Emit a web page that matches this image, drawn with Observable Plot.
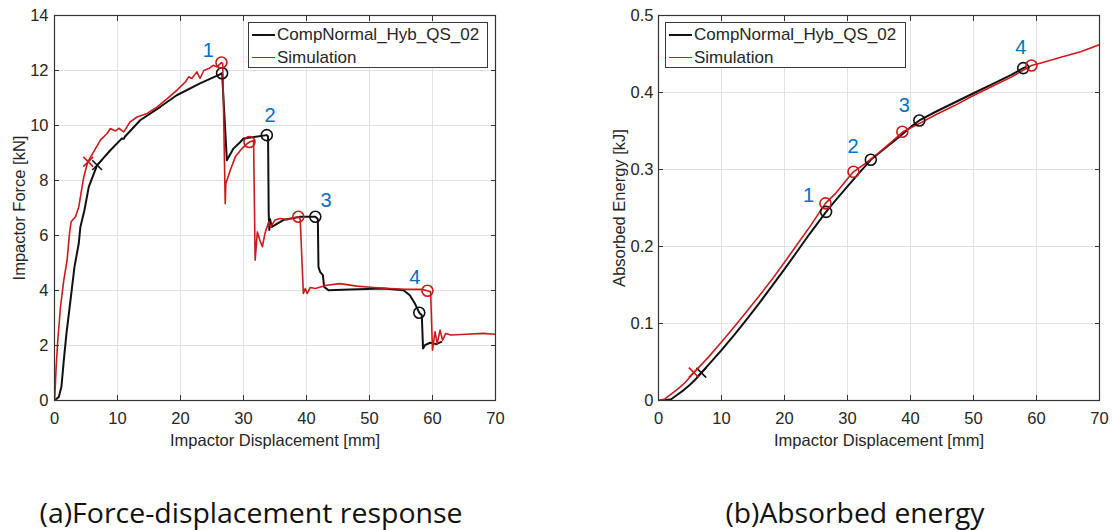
<!DOCTYPE html>
<html>
<head>
<meta charset="utf-8">
<script src="https://cdn.jsdelivr.net/npm/d3@7"></script>
<script src="https://cdn.jsdelivr.net/npm/@observablehq/plot@0.6"></script>
<style>
  body { margin: 0; background: #fff; width: 1112px; height: 530px; position: relative; overflow: hidden;
         font-family: "Liberation Sans", Arial, sans-serif; color: #262626; }
  .panel { position: absolute; top: 0; }
  .legend { position: absolute; top: 22px; height: 46px; border: 1px solid #3a3a3a; background: #fff; box-sizing: border-box; }
  .legend .row { height: 23px; line-height: 23px; font-size: 17px; white-space: nowrap; display: flex; align-items: center; }
  .legend .swatch { display: inline-block; width: 23px; margin-left: 3px; margin-right: 2px; }
  #captions { position: absolute; left: 0; top: 480px; }
</style>
</head>
<body>
<div id="force" class="panel" style="left:0"></div>
<div id="energy" class="panel" style="left:556px"></div>

<div class="legend" style="left:248px; width:240px">
  <div class="row"><span class="swatch" style="border-top:2px solid #111"></span>CompNormal_Hyb_QS_02</div>
  <div class="row"><span class="swatch" style="border-top:1.6px solid #cc1a1a"></span>Simulation</div>
</div>
<div class="legend" style="left:665px; width:241px">
  <div class="row"><span class="swatch" style="border-top:2px solid #111"></span>CompNormal_Hyb_QS_02</div>
  <div class="row"><span class="swatch" style="border-top:1.6px solid #cc1a1a"></span>Simulation</div>
</div>

<svg id="captions" width="1112" height="50">
  <text x="251" y="43" text-anchor="middle" font-family="Open Sans, sans-serif" font-size="27" fill="#111" textLength="423" lengthAdjust="spacingAndGlyphs">(a)Force-displacement response</text>
  <text x="855" y="43" text-anchor="middle" font-family="Open Sans, sans-serif" font-size="27" fill="#111" textLength="259" lengthAdjust="spacingAndGlyphs">(b)Absorbed energy</text>
</svg>

<script>
// ---- shared axis ticks ----
const dispTicks = [0, 10, 20, 30, 40, 50, 60, 70];
const forceTicks = [0, 2, 4, 6, 8, 10, 12, 14];
const energyTicks = [0, 0.1, 0.2, 0.3, 0.4, 0.5];

// ---- force–displacement: test (CompNormal_Hyb_QS_02) ----
const expDisp = [0, 0.68, 1.1, 1.48, 1.9, 2.54, 3.17, 3.85, 4.1, 4.75, 5.44, 6.77, 8.87, 10.7, 11.0, 11.2, 13.6, 16.8, 19.4, 23.1, 26.0, 26.6,
  27.36, 28.4, 29.5, 30.0, 33.7, 33.9, 34.0, 34.1, 34.2, 34.5, 36.3, 39.0, 41.4, 41.8, 41.9, 42.15, 42.6, 42.8, 43.5,
  46.9, 52.2, 55.4, 56.4, 57.2, 57.9, 58.3, 58.5, 58.8, 59.6, 60.6, 61.4];
const expForce = [0, 0.13, 0.5, 1.47, 2.44, 3.65, 4.86, 5.71, 6.3, 6.92, 7.77, 8.56, 9.1, 9.53, 9.52, 9.6, 10.19, 10.68, 11.1, 11.53, 11.83, 11.9,
  8.74, 9.16, 9.4, 9.53, 9.65, 9.6, 6.8, 6.2, 6.6, 6.31, 6.56, 6.68, 6.68, 6.6, 4.86, 4.68, 4.56, 4.13, 4.01,
  4.04, 4.07, 4.01, 3.83, 3.53, 3.19, 3.1, 1.89, 2.01, 2.1, 2.05, 2.13];

// ---- force–displacement: simulation ----
const simDisp = [0, 0.05, 0.26, 0.52, 0.95, 1.47, 2.0, 2.38, 2.64, 3.33, 3.85, 4.65, 5.28, 6.5, 7.29, 8.35, 8.87, 9.67, 10.2, 11.0, 12.0, 13.1,
  14.7, 16.3, 17.9, 19.4, 20.8, 21.3, 21.8, 22.6, 23.1, 23.7, 24.5, 25.2, 25.8, 26.5, 26.7, 27.1, 27.2, 27.9, 28.7, 29.75, 30.5, 30.95,
  31.6, 31.85, 32.2, 32.6, 33.0, 33.4, 34.0, 34.3, 35.0, 35.8, 37.0, 38.7, 39.0, 39.5, 39.8, 40.1, 40.6, 41.4, 43.2, 45.3, 48.0, 50.6,
  53.2, 55.9, 58.3, 59.2, 59.7, 60.0, 60.4, 60.75, 61.2, 61.6, 62.1, 62.9, 65.4, 68.0, 70.0];
const simForce = [0, 0.13, 1.22, 2.19, 3.4, 4.37, 5.1, 6.07, 6.5, 6.68, 7.04, 8.13, 8.68, 9.16, 9.47, 9.71, 9.89, 9.8, 9.9, 9.77, 10.13, 10.31,
  10.44, 10.68, 10.98, 11.28, 11.59, 11.77, 11.71, 11.95, 11.71, 12.0, 12.07, 12.19, 12.13, 12.29, 12.25, 7.16, 7.89, 8.37, 8.86, 9.16, 9.32, 9.4,
  9.45, 5.1, 6.13, 5.83, 5.59, 6.07, 6.5, 6.31, 6.56, 6.62, 6.58, 6.68, 6.6, 3.89, 4.07, 3.89, 4.11, 4.07, 4.19, 4.25, 4.16, 4.11,
  4.07, 4.04, 4.04, 3.99, 3.95, 1.83, 2.5, 2.07, 2.56, 2.19, 2.44, 2.38, 2.41, 2.44, 2.41];

// ---- absorbed energy (kJ) ----
const expEnergyDisp = [0, 1, 2, 3, 4, 5, 6, 6.8, 8, 10, 12, 14, 16, 18, 20, 22, 24, 26.6, 28, 30, 32, 33.7, 36, 38, 40, 41.4, 44, 47, 50, 53, 56, 57.9, 58.3];
const expEnergy = [0, 0.0002, 0.0017, 0.0075, 0.0135, 0.0205, 0.0285, 0.036, 0.047, 0.0655, 0.085, 0.1055, 0.1265, 0.1485, 0.1705, 0.1935, 0.2165, 0.245,
  0.259, 0.278, 0.297, 0.3126, 0.328, 0.341, 0.355, 0.3637, 0.375, 0.387, 0.399, 0.411, 0.423, 0.4317, 0.433];
const simEnergyDisp = [0, 1, 2, 3, 4, 5.6, 8, 10, 12, 14, 16, 18, 20, 22, 24, 26.5, 28, 30, 30.95, 33, 35, 37, 38.8, 41, 44, 47, 50, 53, 56, 59.2, 61, 64, 67, 70];
const simEnergy = [0, 0.002, 0.0083, 0.0145, 0.0215, 0.036, 0.057, 0.076, 0.0955, 0.1155, 0.136, 0.157, 0.1795, 0.2025, 0.2255, 0.256, 0.268, 0.288, 0.297,
  0.309, 0.322, 0.336, 0.349, 0.358, 0.371, 0.383, 0.396, 0.408, 0.42, 0.435, 0.439, 0.446, 0.453, 0.462];

// ---- damage events 1–4 (circles) and damage onset (crosses) ----
const eventLabels = ["1", "2", "3", "4"];
const expEventDisp = [26.6, 33.7, 41.4, 57.9];
const expEventForce = [11.9, 9.65, 6.68, 3.19];
const expEventEnergy = [0.245, 0.3126, 0.3637, 0.4317];
const simEventDisp = [26.5, 30.95, 38.7, 59.2];
const simEventForce = [12.29, 9.4, 6.68, 3.99];
const simEventEnergy = [0.256, 0.297, 0.349, 0.435];
const onsetDisp = { exp: 6.77, sim: 5.35 };
const onsetForce = { exp: 8.56, sim: 8.68 };
const onsetEnergyDisp = { exp: 6.8, sim: 5.6 };
const onsetEnergy = { exp: 0.036, sim: 0.0364 };

// event number label positions
const forceLabelDisp = [24.4, 34.2, 43.1, 57.2];
const forceLabelForce = [12.74, 10.37, 7.28, 4.48];
const energyLabelDisp = [23.8, 30.9, 39.0, 57.5];
const energyLabelEnergy = [0.266, 0.33, 0.383, 0.458];

const BLACK = "#111111", RED = "#cc1a1a", BLUE = "#0072BD", GRID = "#e1e1e1", AXIS = "#333333";
const FONT = "Liberation Sans, Arial, sans-serif";

const zipXY = (xs, ys) => xs.map((x, i) => ({ x, y: ys[i] }));
const labelsAt = (xs, ys) => xs.map((x, i) => ({ x, y: ys[i], t: eventLabels[i] }));

function chart({ yDomain, yTicks, yLabel, yLabelOffset, marginLeft, marginRight, yPad, yFormat, exp, sim, expEv, simEv, onsets, labels }) {
  return Plot.plot({
    width: 556, height: 450,
    marginLeft, marginRight, marginTop: 15, marginBottom: 50,
    style: { fontFamily: FONT, fontSize: "16.5px", color: "#262626", background: "transparent" },
    x: { domain: [0, 70] },
    y: { domain: yDomain },
    marks: [
      Plot.gridX(dispTicks, { stroke: GRID, strokeOpacity: 1 }),
      Plot.gridY(yTicks, { stroke: GRID, strokeOpacity: 1 }),
      Plot.line(exp, { x: "x", y: "y", stroke: BLACK, strokeWidth: 2, clip: true }),
      Plot.line(sim, { x: "x", y: "y", stroke: RED, strokeWidth: 1.6, clip: true }),
      Plot.dot(expEv, { x: "x", y: "y", r: 5.5, stroke: BLACK, strokeWidth: 1.6, fill: "none" }),
      Plot.dot(simEv, { x: "x", y: "y", r: 5.5, stroke: RED, strokeWidth: 1.6, fill: "none" }),
      Plot.dot([onsets[0]], { x: "x", y: "y", symbol: "times", r: 4.5, stroke: BLACK, strokeWidth: 1.6 }),
      Plot.dot([onsets[1]], { x: "x", y: "y", symbol: "times", r: 4.5, stroke: RED, strokeWidth: 1.6 }),
      Plot.text(labels, { x: "x", y: "y", text: "t", fill: BLUE, fontSize: 20, fontFamily: FONT }),
      Plot.frame({ stroke: AXIS, strokeWidth: 1.2 }),
      Plot.axisX(dispTicks, { anchor: "bottom", tickSize: -5, tickPadding: 17, stroke: AXIS,
        fontSize: 16.5, fontFamily: FONT,
        label: "Impactor Displacement [mm]", labelAnchor: "center", labelArrow: "none", labelOffset: 45 }),
      Plot.axisX(dispTicks, { anchor: "top", tickSize: -5, stroke: AXIS, fill: "none", label: null }),
      Plot.axisY(yTicks, { anchor: "left", tickSize: -5, tickPadding: yPad, stroke: AXIS, tickFormat: yFormat,
        fontSize: 16.5, fontFamily: FONT,
        label: yLabel, labelAnchor: "center", labelArrow: "none", labelOffset: yLabelOffset }),
      Plot.axisY(yTicks, { anchor: "right", tickSize: -5, stroke: AXIS, fill: "none", label: null })
    ]
  });
}

document.getElementById("force").append(chart({
  yDomain: [0, 14], yTicks: forceTicks, yLabel: "Impactor Force [kN]", yLabelOffset: 41,
  marginLeft: 54, marginRight: 61, yPad: 11, yFormat: d => String(d),
  exp: zipXY(expDisp, expForce), sim: zipXY(simDisp, simForce),
  expEv: zipXY(expEventDisp, expEventForce), simEv: zipXY(simEventDisp, simEventForce),
  onsets: [{ x: onsetDisp.exp, y: onsetForce.exp }, { x: onsetDisp.sim, y: onsetForce.sim }],
  labels: labelsAt(forceLabelDisp, forceLabelForce)
}));

document.getElementById("energy").append(chart({
  yDomain: [0, 0.5], yTicks: energyTicks, yLabel: "Absorbed Energy [kJ]", yLabelOffset: 45,
  marginLeft: 102, marginRight: 13, yPad: 10, yFormat: d => d === 0 ? "0" : d3.format(".1f")(d),
  exp: zipXY(expEnergyDisp, expEnergy), sim: zipXY(simEnergyDisp, simEnergy),
  expEv: zipXY(expEventDisp, expEventEnergy), simEv: zipXY(simEventDisp, simEventEnergy),
  onsets: [{ x: onsetEnergyDisp.exp, y: onsetEnergy.exp }, { x: onsetEnergyDisp.sim, y: onsetEnergy.sim }],
  labels: labelsAt(energyLabelDisp, energyLabelEnergy)
}));
</script>
</body>
</html>
